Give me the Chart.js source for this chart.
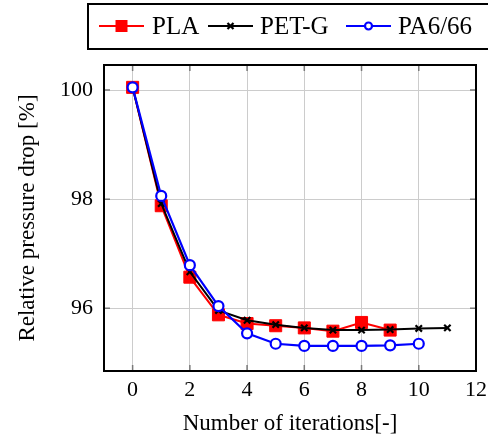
<!DOCTYPE html>
<html>
<head>
<meta charset="utf-8">
<script src="https://cdn.jsdelivr.net/npm/chart.js@4/dist/chart.umd.min.js"></script>
<style>
    body { margin: 0; background: #fff; }
    canvas { display: block; }
</style>
</head>
<body>
<canvas id="pressureDrop" width="488" height="443"></canvas>
<script>
// iterations and relative pressure drop per filament
const iterations = [0, 1, 2, 3, 4, 5, 6, 7, 8, 9, 10, 11];
const plaDrop = [100.05, 97.88, 96.57, 95.88, 95.72, 95.68, 95.64, 95.58, 95.74, 95.60];
const petgDrop = [100.05, 97.92, 96.67, 95.96, 95.78, 95.70, 95.64, 95.60, 95.60, 95.61, 95.63, 95.64];
const paDrop = [100.05, 98.06, 96.79, 96.04, 95.54, 95.35, 95.31, 95.31, 95.31, 95.32, 95.35];
const xTicks = [0, 2, 4, 6, 8, 10, 12];
const yTicks = [96, 98, 100];
const seriesNames = ['PLA', 'PET-G', 'PA6/66'];

const serif = "'Liberation Serif', 'DejaVu Serif', serif";
Chart.defaults.font.family = serif;
Chart.defaults.color = '#000';

function toPoints(values) {
    return values.map((v, i) => ({ x: iterations[i], y: v }));
}

// black frame, inward tick marks and the boxed legend on top
const pgfStyle = {
    id: 'pgfStyle',
    afterDatasetsDraw(chart) {
        const c = chart.ctx;
        const a = chart.chartArea;
        const sx = chart.scales.x;
        const sy = chart.scales.y;
        c.save();
        c.strokeStyle = '#7a7a7a';
        c.lineWidth = 1.5;
        c.beginPath();
        xTicks.forEach(v => {
            const px = sx.getPixelForValue(v);
            c.moveTo(px, a.bottom); c.lineTo(px, a.bottom - 6);
            c.moveTo(px, a.top); c.lineTo(px, a.top + 6);
        });
        yTicks.forEach(v => {
            const py = sy.getPixelForValue(v);
            c.moveTo(a.left, py); c.lineTo(a.left + 6, py);
            c.moveTo(a.right, py); c.lineTo(a.right - 6, py);
        });
        c.stroke();
        c.strokeStyle = '#000';
        c.lineWidth = 2;
        c.strokeRect(a.left, a.top, a.right - a.left, a.bottom - a.top);
        c.restore();
    },
    afterDraw(chart) {
        const c = chart.ctx;
        c.save();
        c.fillStyle = '#fff';
        c.fillRect(88, 4, 420, 45);
        c.strokeStyle = '#000';
        c.lineWidth = 2;
        c.strokeRect(88, 4, 420, 45);

        const y = 26;
        const items = [
            { x: 99, text: 152, ds: chart.data.datasets[0] },
            { x: 208, text: 260, ds: chart.data.datasets[1] },
            { x: 346, text: 398, ds: chart.data.datasets[2] }
        ];
        items.forEach((it, i) => {
            const mx = it.x + 22.5;
            c.strokeStyle = it.ds.borderColor;
            c.lineWidth = 2;
            c.beginPath();
            c.moveTo(it.x, y); c.lineTo(it.x + 45, y);
            c.stroke();
            c.fillStyle = it.ds.pointBackgroundColor;
            c.strokeStyle = it.ds.pointBorderColor;
            c.lineWidth = it.ds.pointBorderWidth;
            c.beginPath();
            if (i === 0) {
                c.rect(mx - 6, y - 6, 12, 12);
                c.fill();
            } else if (i === 1) {
                c.moveTo(mx - 3, y - 3); c.lineTo(mx + 3, y + 3);
                c.moveTo(mx + 3, y - 3); c.lineTo(mx - 3, y + 3);
                c.stroke();
            } else {
                c.arc(mx, y, 3.5, 0, Math.PI * 2);
                c.fill();
                c.stroke();
            }
            c.fillStyle = '#000';
            c.font = '25px ' + serif;
            c.textBaseline = 'middle';
            c.fillText(seriesNames[i], it.text, y + 1);
        });
        c.restore();
    }
};

const ctx = document.getElementById('pressureDrop').getContext('2d');
const pressureChart = new Chart(ctx, {
    type: 'line',
    data: {
        datasets: [
            {
                label: seriesNames[0],
                data: toPoints(plaDrop),
                borderColor: '#ff0000',
                borderWidth: 2,
                pointStyle: 'rect',
                pointRadius: 8.5,
                pointBackgroundColor: '#ff0000',
                pointBorderColor: '#ff0000',
                pointBorderWidth: 1,
                order: 3
            },
            {
                label: seriesNames[1],
                data: toPoints(petgDrop),
                borderColor: '#000000',
                borderWidth: 2,
                pointStyle: 'crossRot',
                pointRadius: 4.5,
                pointBackgroundColor: '#000000',
                pointBorderColor: '#000000',
                pointBorderWidth: 2.2,
                order: 2
            },
            {
                label: seriesNames[2],
                data: toPoints(paDrop),
                borderColor: '#0000ff',
                borderWidth: 2.2,
                pointStyle: 'circle',
                pointRadius: 5,
                pointBackgroundColor: '#ffffff',
                pointBorderColor: '#0000ff',
                pointBorderWidth: 2.2,
                order: 1
            }
        ]
    },
    options: {
        responsive: false,
        animation: false,
        events: [],
        layout: { padding: { top: 65, right: 12, left: 0, bottom: 0 } },
        plugins: {
            legend: { display: false },
            tooltip: { enabled: false }
        },
        scales: {
            x: {
                type: 'linear',
                min: -1,
                max: 12,
                afterBuildTicks: scale => { scale.ticks = xTicks.map(v => ({ value: v })); },
                afterFit: scale => {
                    scale.height = 72;
                    scale.paddingLeft = 0;
                    scale.paddingRight = 0;
                },
                grid: { color: '#cccccc', lineWidth: 1, drawTicks: false },
                border: { display: false },
                ticks: { padding: 6, font: { size: 22 }, maxRotation: 0 },
                title: {
                    display: true,
                    text: 'Number of iterations[-]',
                    font: { size: 23 },
                    padding: { top: 0, bottom: 5 }
                }
            },
            y: {
                type: 'linear',
                min: 94.85,
                max: 100.46,
                afterBuildTicks: scale => { scale.ticks = yTicks.map(v => ({ value: v })); },
                afterFit: scale => {
                    scale.width = 104;
                    scale.paddingTop = 0;
                    scale.paddingBottom = 0;
                },
                grid: { color: '#cccccc', lineWidth: 1, drawTicks: false },
                border: { display: false },
                ticks: { padding: 11, font: { size: 22 } },
                title: {
                    display: true,
                    text: 'Relative pressure drop [%]',
                    font: { size: 23 },
                    padding: { top: 14, bottom: 0 }
                }
            }
        }
    },
    plugins: [pgfStyle]
});
</script>
</body>
</html>
